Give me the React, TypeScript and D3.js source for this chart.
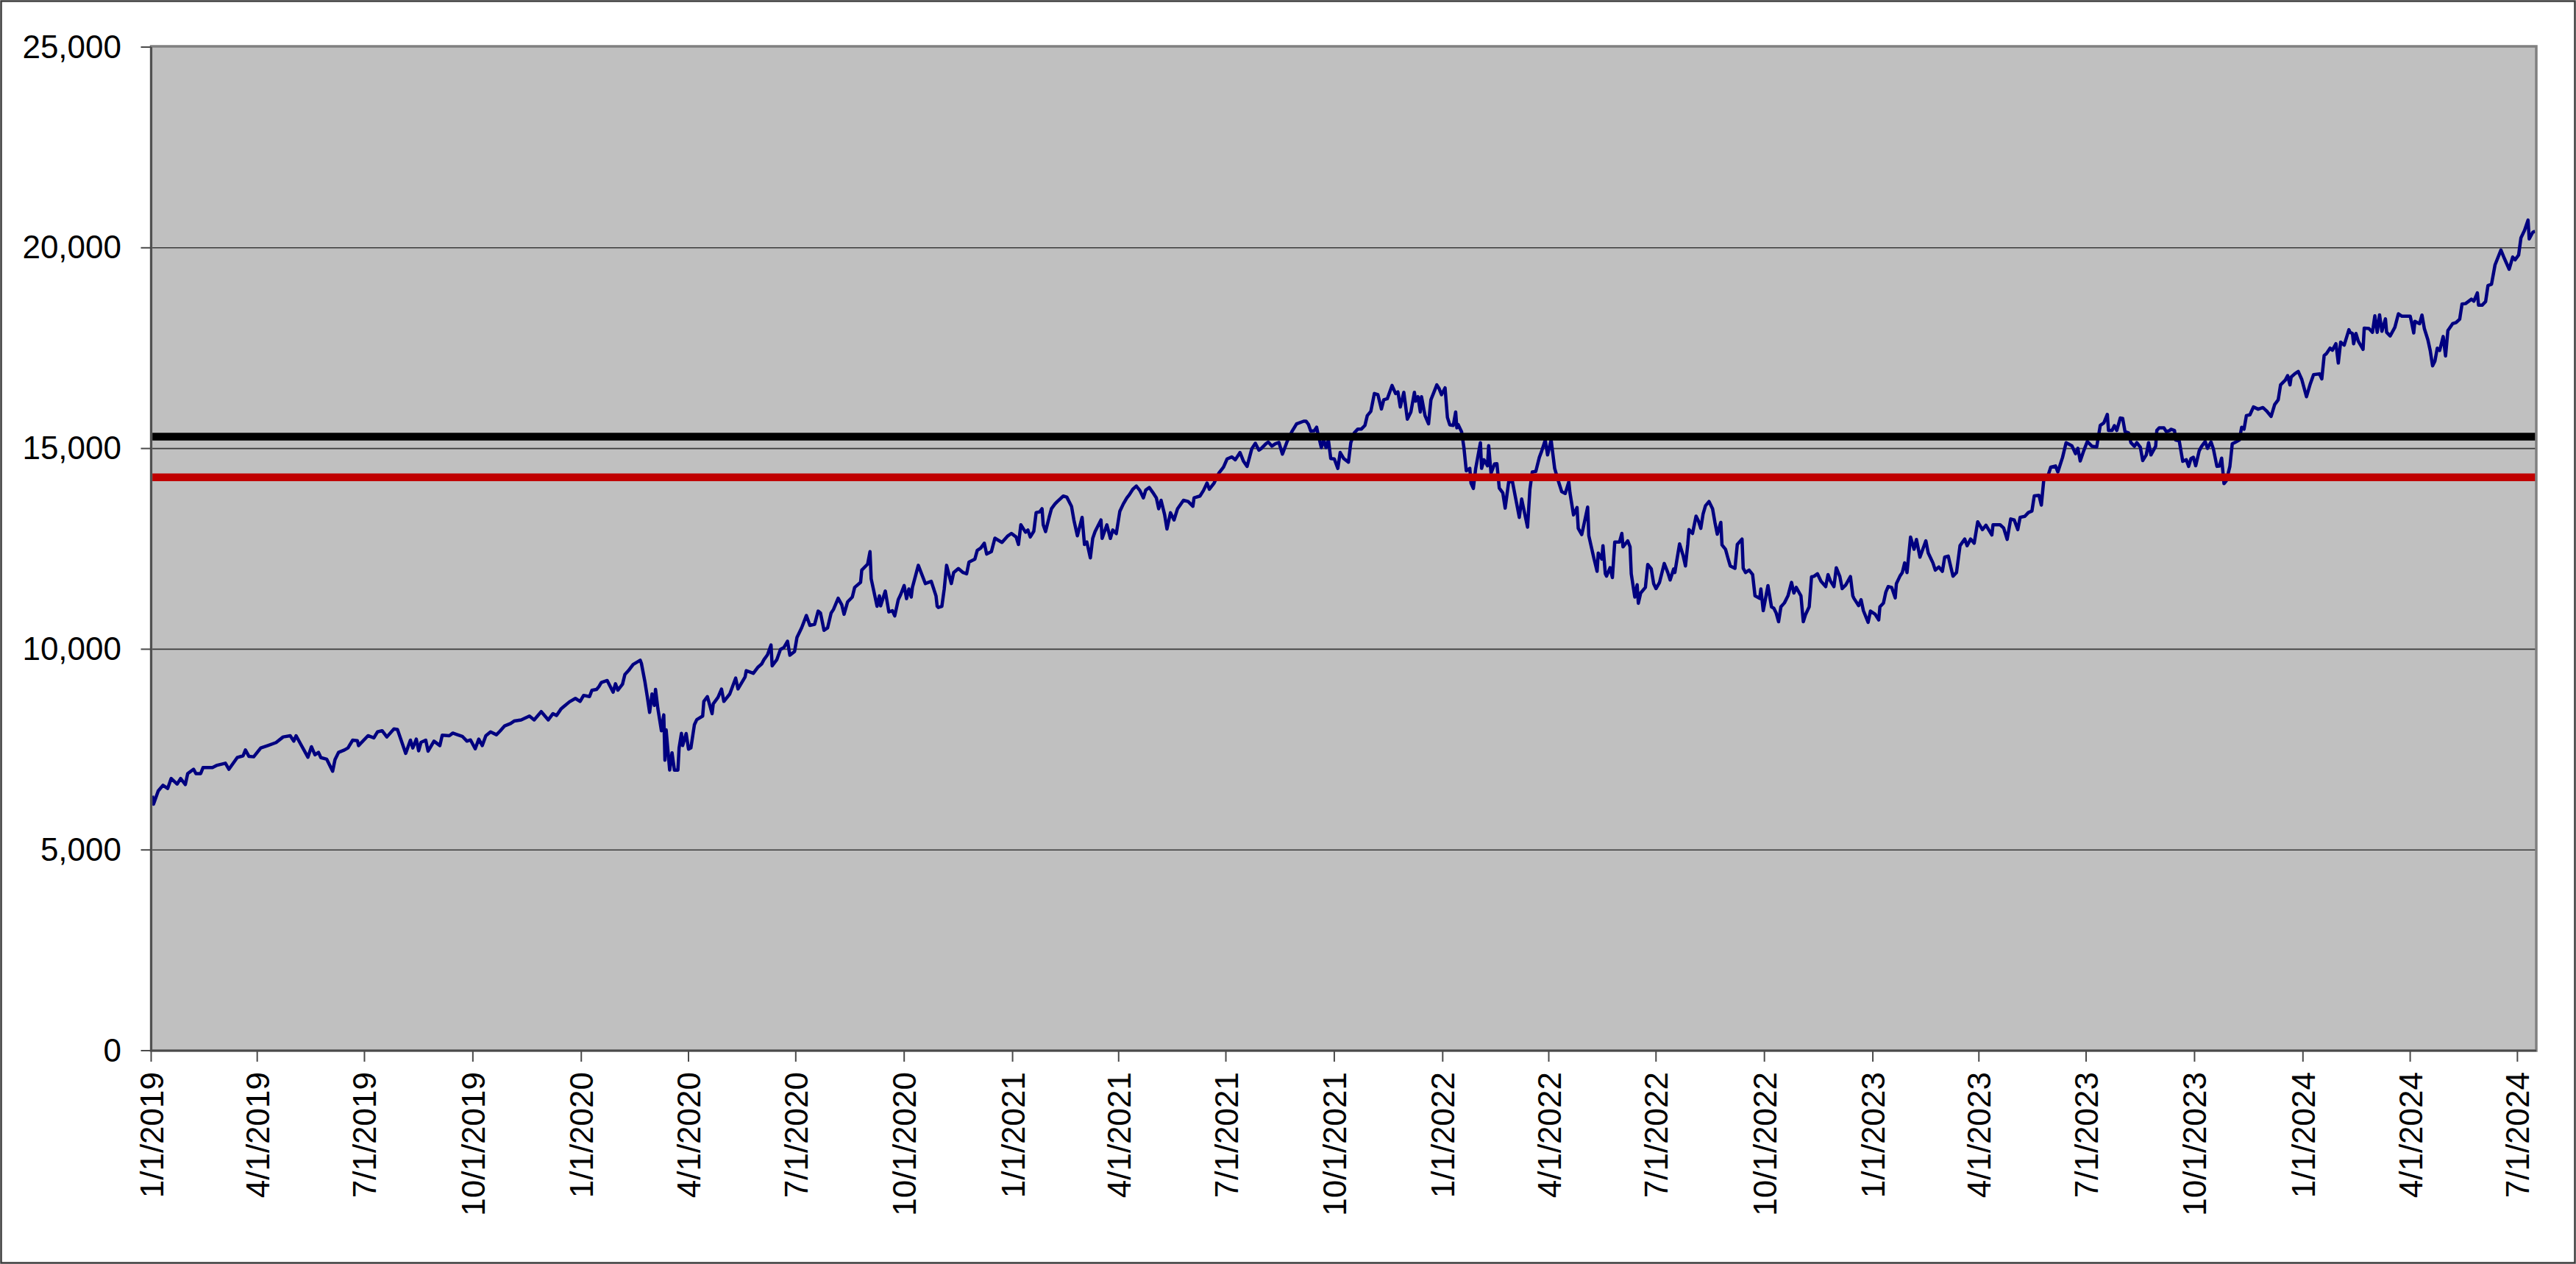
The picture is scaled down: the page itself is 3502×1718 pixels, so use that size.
import { useEffect, useRef } from "react";
import * as d3 from "d3";

type Point = [string, number];

// daily close (approx.)
const series2019: Point[] = [
  ["2019-01-02", 6350], ["2019-01-03", 6140], ["2019-01-07", 6470], ["2019-01-11", 6610], ["2019-01-15", 6530],
  ["2019-01-18", 6780], ["2019-01-23", 6640], ["2019-01-26", 6780], ["2019-01-30", 6630], ["2019-02-01", 6900],
  ["2019-02-06", 7010], ["2019-02-08", 6900], ["2019-02-12", 6900], ["2019-02-14", 7050], ["2019-02-22", 7050],
  ["2019-02-26", 7110], ["2019-03-05", 7160], ["2019-03-08", 7010], ["2019-03-15", 7300], ["2019-03-20", 7345],
  ["2019-03-22", 7490], ["2019-03-25", 7330], ["2019-03-29", 7320], ["2019-04-04", 7540], ["2019-04-10", 7600],
  ["2019-04-17", 7675], ["2019-04-23", 7815], ["2019-04-29", 7845], ["2019-05-02", 7710], ["2019-05-04", 7845],
  ["2019-05-08", 7630], ["2019-05-14", 7310], ["2019-05-17", 7570], ["2019-05-20", 7370], ["2019-05-23", 7430],
  ["2019-05-25", 7300], ["2019-05-30", 7260], ["2019-06-04", 6960], ["2019-06-06", 7250], ["2019-06-09", 7430],
  ["2019-06-14", 7490], ["2019-06-17", 7540], ["2019-06-21", 7735], ["2019-06-25", 7720], ["2019-06-26", 7600],
  ["2019-07-04", 7845], ["2019-07-09", 7790], ["2019-07-12", 7940], ["2019-07-16", 7970], ["2019-07-20", 7815],
  ["2019-07-26", 8015], ["2019-07-29", 8000], ["2019-08-05", 7405], ["2019-08-09", 7735], ["2019-08-11", 7540],
  ["2019-08-14", 7760], ["2019-08-16", 7470], ["2019-08-18", 7680], ["2019-08-22", 7735], ["2019-08-24", 7460],
  ["2019-08-29", 7710], ["2019-09-03", 7600], ["2019-09-05", 7860], ["2019-09-11", 7845], ["2019-09-14", 7910],
  ["2019-09-17", 7880], ["2019-09-22", 7830], ["2019-09-26", 7710], ["2019-09-29", 7740], ["2019-10-03", 7520],
  ["2019-10-06", 7760], ["2019-10-09", 7600], ["2019-10-12", 7845], ["2019-10-16", 7940], ["2019-10-21", 7870],
  ["2019-10-24", 7960], ["2019-10-28", 8090], ["2019-11-02", 8150], ["2019-11-05", 8210], ["2019-11-11", 8240],
  ["2019-11-18", 8335], ["2019-11-22", 8240], ["2019-11-28", 8445], ["2019-12-04", 8240], ["2019-12-08", 8395],
  ["2019-12-11", 8350], ["2019-12-15", 8520], ["2019-12-22", 8690], ["2019-12-27", 8775], ["2019-12-31", 8700],
];

const series2020: Point[] = [
  ["2020-01-03", 8850], ["2020-01-08", 8820], ["2020-01-10", 8975], ["2020-01-14", 9000], ["2020-01-16", 9070],
  ["2020-01-18", 9170], ["2020-01-23", 9220], ["2020-01-28", 8930], ["2020-01-30", 9140], ["2020-02-01", 8980],
  ["2020-02-05", 9130], ["2020-02-07", 9370], ["2020-02-10", 9465], ["2020-02-14", 9620], ["2020-02-20", 9725],
  ["2020-02-21", 9650], ["2020-02-24", 9190], ["2020-02-26", 8820], ["2020-02-28", 8425], ["2020-03-01", 8885],
  ["2020-03-03", 8600], ["2020-03-04", 9000], ["2020-03-06", 8520], ["2020-03-09", 7970], ["2020-03-11", 8365],
  ["2020-03-12", 7235], ["2020-03-13", 7990], ["2020-03-16", 6990], ["2020-03-18", 7420], ["2020-03-20", 6990],
  ["2020-03-23", 6990], ["2020-03-24", 7540], ["2020-03-26", 7905], ["2020-03-27", 7600], ["2020-03-30", 7900],
  ["2020-04-01", 7510], ["2020-04-03", 7540], ["2020-04-06", 8120], ["2020-04-08", 8245], ["2020-04-13", 8335],
  ["2020-04-14", 8700], ["2020-04-17", 8820], ["2020-04-21", 8395], ["2020-04-22", 8640], ["2020-04-26", 8800],
  ["2020-04-29", 9005], ["2020-05-01", 8700], ["2020-05-06", 8885], ["2020-05-11", 9280], ["2020-05-13", 9010],
  ["2020-05-19", 9310], ["2020-05-20", 9465], ["2020-05-26", 9400], ["2020-05-30", 9555], ["2020-06-02", 9630],
  ["2020-06-04", 9740], ["2020-06-07", 9860], ["2020-06-10", 10105], ["2020-06-11", 9585], ["2020-06-15", 9745],
  ["2020-06-18", 9995], ["2020-06-21", 10045], ["2020-06-24", 10200], ["2020-06-26", 9850], ["2020-06-30", 9945],
  ["2020-07-02", 10290], ["2020-07-06", 10535], ["2020-07-10", 10840], ["2020-07-13", 10595], ["2020-07-17", 10620],
  ["2020-07-20", 10950], ["2020-07-22", 10900], ["2020-07-25", 10470], ["2020-07-28", 10530], ["2020-07-31", 10900],
  ["2020-08-02", 10990], ["2020-08-06", 11270], ["2020-08-09", 11110], ["2020-08-11", 10870], ["2020-08-14", 11180],
  ["2020-08-18", 11300], ["2020-08-20", 11540], ["2020-08-25", 11665], ["2020-08-26", 11970], ["2020-08-31", 12120],
  ["2020-09-02", 12430], ["2020-09-03", 11755], ["2020-09-08", 11070], ["2020-09-10", 11330], ["2020-09-11", 11080],
  ["2020-09-15", 11450], ["2020-09-18", 10930], ["2020-09-21", 10960], ["2020-09-23", 10830], ["2020-09-26", 11235],
  ["2020-09-28", 11360], ["2020-10-01", 11585], ["2020-10-03", 11260], ["2020-10-05", 11500], ["2020-10-07", 11300],
  ["2020-10-08", 11540], ["2020-10-13", 12090], ["2020-10-19", 11635], ["2020-10-24", 11690], ["2020-10-28", 11330],
  ["2020-10-29", 11070], ["2020-10-30", 11040], ["2020-11-02", 11070], ["2020-11-04", 11500], ["2020-11-06", 12090],
  ["2020-11-10", 11635], ["2020-11-12", 11910], ["2020-11-16", 12010], ["2020-11-20", 11910], ["2020-11-23", 11880],
  ["2020-11-25", 12170], ["2020-11-30", 12245], ["2020-12-02", 12460], ["2020-12-05", 12520], ["2020-12-08", 12640],
  ["2020-12-10", 12370], ["2020-12-14", 12430], ["2020-12-17", 12765], ["2020-12-23", 12660], ["2020-12-28", 12825],
  ["2020-12-31", 12885],
];

const series2021: Point[] = [
  ["2021-01-04", 12795], ["2021-01-06", 12610], ["2021-01-08", 13100], ["2021-01-12", 12915], ["2021-01-14", 12970],
  ["2021-01-16", 12795], ["2021-01-19", 12940], ["2021-01-21", 13405], ["2021-01-24", 13420], ["2021-01-26", 13500],
  ["2021-01-27", 13100], ["2021-01-29", 12930], ["2021-02-01", 13285], ["2021-02-03", 13500], ["2021-02-06", 13620],
  ["2021-02-08", 13680], ["2021-02-13", 13815], ["2021-02-16", 13790], ["2021-02-20", 13560], ["2021-02-22", 13220],
  ["2021-02-25", 12825], ["2021-03-01", 13285], ["2021-03-03", 12610], ["2021-03-05", 12670], ["2021-03-08", 12275],
  ["2021-03-10", 12760], ["2021-03-12", 12930], ["2021-03-17", 13220], ["2021-03-18", 12760], ["2021-03-22", 13100],
  ["2021-03-25", 12760], ["2021-03-27", 12970], ["2021-03-30", 12880], ["2021-04-02", 13435], ["2021-04-05", 13620],
  ["2021-04-08", 13770], ["2021-04-10", 13845], ["2021-04-13", 13985], ["2021-04-16", 14065], ["2021-04-19", 13955],
  ["2021-04-22", 13770], ["2021-04-24", 13965], ["2021-04-27", 14030], ["2021-04-30", 13905], ["2021-05-03", 13770],
  ["2021-05-05", 13500], ["2021-05-07", 13710], ["2021-05-10", 13355], ["2021-05-12", 12995], ["2021-05-15", 13400],
  ["2021-05-18", 13220], ["2021-05-21", 13500], ["2021-05-26", 13710], ["2021-05-30", 13680], ["2021-06-03", 13560],
  ["2021-06-04", 13770], ["2021-06-09", 13815], ["2021-06-12", 13955], ["2021-06-15", 14140], ["2021-06-17", 13985],
  ["2021-06-21", 14140], ["2021-06-25", 14385], ["2021-06-29", 14535], ["2021-07-02", 14740], ["2021-07-06", 14790],
  ["2021-07-09", 14720], ["2021-07-13", 14900], ["2021-07-16", 14680], ["2021-07-19", 14555], ["2021-07-23", 14995],
  ["2021-07-26", 15130], ["2021-07-29", 14960], ["2021-07-31", 15000], ["2021-08-04", 15120], ["2021-08-06", 15160],
  ["2021-08-09", 15060], ["2021-08-12", 15120], ["2021-08-15", 15150], ["2021-08-18", 14860], ["2021-08-22", 15175],
  ["2021-08-26", 15420], ["2021-08-30", 15615], ["2021-09-05", 15680], ["2021-09-07", 15680], ["2021-09-09", 15605],
  ["2021-09-11", 15435], ["2021-09-14", 15440], ["2021-09-16", 15530], ["2021-09-17", 15390], ["2021-09-20", 15025],
  ["2021-09-22", 15210], ["2021-09-24", 15025], ["2021-09-26", 15210], ["2021-09-28", 14750], ["2021-10-01", 14740],
  ["2021-10-04", 14505], ["2021-10-06", 14900], ["2021-10-09", 14750], ["2021-10-13", 14660], ["2021-10-15", 15145],
  ["2021-10-18", 15390], ["2021-10-21", 15485], ["2021-10-24", 15485], ["2021-10-27", 15575], ["2021-10-29", 15820],
  ["2021-11-01", 15925], ["2021-11-04", 16370], ["2021-11-07", 16340], ["2021-11-10", 15985], ["2021-11-12", 16215],
  ["2021-11-15", 16240], ["2021-11-19", 16570], ["2021-11-22", 16370], ["2021-11-24", 16410], ["2021-11-26", 16035],
  ["2021-11-29", 16400], ["2021-12-02", 15730], ["2021-12-05", 15910], ["2021-12-08", 16400], ["2021-12-09", 16180],
  ["2021-12-11", 16290], ["2021-12-13", 15910], ["2021-12-14", 16290], ["2021-12-17", 15820], ["2021-12-20", 15615],
  ["2021-12-22", 16215], ["2021-12-27", 16585], ["2021-12-29", 16490], ["2021-12-31", 16340],
];

const series2022: Point[] = [
  ["2022-01-03", 16510], ["2022-01-05", 15775], ["2022-01-07", 15590], ["2022-01-10", 15575], ["2022-01-12", 15910],
  ["2022-01-13", 15515], ["2022-01-14", 15600], ["2022-01-17", 15420], ["2022-01-19", 15025], ["2022-01-21", 14445],
  ["2022-01-24", 14505], ["2022-01-25", 14140], ["2022-01-27", 14005], ["2022-01-29", 14505], ["2022-02-02", 15145],
  ["2022-02-03", 14505], ["2022-02-05", 14720], ["2022-02-08", 14570], ["2022-02-09", 15070], ["2022-02-11", 14385],
  ["2022-02-14", 14615], ["2022-02-16", 14620], ["2022-02-18", 14015], ["2022-02-21", 13895], ["2022-02-23", 13515],
  ["2022-02-26", 14170], ["2022-03-01", 14200], ["2022-03-03", 13895], ["2022-03-07", 13285], ["2022-03-09", 13740],
  ["2022-03-14", 13040], ["2022-03-16", 13985], ["2022-03-18", 14415], ["2022-03-21", 14430], ["2022-03-24", 14780],
  ["2022-03-26", 14935], ["2022-03-29", 15210], ["2022-03-31", 14840], ["2022-04-03", 15210], ["2022-04-06", 14505],
  ["2022-04-09", 14200], ["2022-04-12", 13925], ["2022-04-15", 13880], ["2022-04-18", 14170], ["2022-04-19", 13895],
  ["2022-04-22", 13345], ["2022-04-25", 13530], ["2022-04-26", 13010], ["2022-04-29", 12855], ["2022-05-04", 13540],
  ["2022-05-05", 12825], ["2022-05-09", 12305], ["2022-05-12", 11940], ["2022-05-13", 12395], ["2022-05-16", 12245],
  ["2022-05-17", 12580], ["2022-05-19", 11880], ["2022-05-20", 11820], ["2022-05-23", 12030], ["2022-05-25", 11785],
  ["2022-05-27", 12670], ["2022-05-31", 12670], ["2022-06-02", 12885], ["2022-06-03", 12550], ["2022-06-07", 12700],
  ["2022-06-09", 12550], ["2022-06-10", 11880], ["2022-06-13", 11300], ["2022-06-15", 11605], ["2022-06-16", 11145],
  ["2022-06-18", 11400], ["2022-06-22", 11540], ["2022-06-24", 12110], ["2022-06-27", 12000], ["2022-06-29", 11635],
  ["2022-07-01", 11510], ["2022-07-04", 11665], ["2022-07-08", 12135], ["2022-07-11", 11910], ["2022-07-13", 11725],
  ["2022-07-16", 12000], ["2022-07-17", 11910], ["2022-07-19", 12275], ["2022-07-21", 12625], ["2022-07-24", 12335],
  ["2022-07-26", 12075], ["2022-07-28", 12625], ["2022-07-29", 12980], ["2022-08-01", 12885], ["2022-08-04", 13315],
  ["2022-08-06", 13195], ["2022-08-08", 13010], ["2022-08-10", 13375], ["2022-08-12", 13575], ["2022-08-15", 13680],
  ["2022-08-18", 13500], ["2022-08-20", 13160], ["2022-08-22", 12865], ["2022-08-25", 13160], ["2022-08-26", 12600],
  ["2022-08-29", 12490], ["2022-08-31", 12275], ["2022-09-02", 12075], ["2022-09-06", 12015], ["2022-09-08", 12610],
  ["2022-09-12", 12745], ["2022-09-13", 12015], ["2022-09-15", 11910], ["2022-09-18", 11970], ["2022-09-21", 11860],
  ["2022-09-23", 11330], ["2022-09-27", 11265], ["2022-09-28", 11500], ["2022-09-30", 10960], ["2022-10-04", 11585],
  ["2022-10-07", 11055], ["2022-10-09", 11020], ["2022-10-11", 10900], ["2022-10-13", 10685], ["2022-10-15", 11055],
  ["2022-10-18", 11155], ["2022-10-21", 11330], ["2022-10-24", 11665], ["2022-10-26", 11400], ["2022-10-28", 11540],
  ["2022-11-01", 11330], ["2022-11-03", 10685], ["2022-11-05", 10870], ["2022-11-08", 11055], ["2022-11-10", 11805],
  ["2022-11-12", 11815], ["2022-11-15", 11880], ["2022-11-18", 11695], ["2022-11-22", 11560], ["2022-11-24", 11860],
  ["2022-11-26", 11700], ["2022-11-29", 11560], ["2022-12-01", 12030], ["2022-12-04", 11810], ["2022-12-06", 11510],
  ["2022-12-09", 11600], ["2022-12-13", 11810], ["2022-12-15", 11330], ["2022-12-16", 11265], ["2022-12-20", 11085],
  ["2022-12-22", 11235], ["2022-12-24", 10960], ["2022-12-28", 10670], ["2022-12-30", 10950],
];

const series2023: Point[] = [
  ["2023-01-03", 10870], ["2023-01-06", 10730], ["2023-01-07", 11055], ["2023-01-10", 11150], ["2023-01-12", 11420],
  ["2023-01-14", 11560], ["2023-01-17", 11540], ["2023-01-20", 11280], ["2023-01-21", 11635], ["2023-01-24", 11820],
  ["2023-01-26", 11910], ["2023-01-28", 12150], ["2023-01-30", 11910], ["2023-02-02", 12795], ["2023-02-05", 12490],
  ["2023-02-07", 12735], ["2023-02-10", 12295], ["2023-02-15", 12700], ["2023-02-17", 12400], ["2023-02-21", 12150],
  ["2023-02-23", 11970], ["2023-02-26", 12050], ["2023-03-01", 11940], ["2023-03-03", 12295], ["2023-03-06", 12320],
  ["2023-03-10", 11820], ["2023-03-13", 11910], ["2023-03-16", 12580], ["2023-03-20", 12745], ["2023-03-22", 12580],
  ["2023-03-25", 12745], ["2023-03-28", 12640], ["2023-03-31", 13175], ["2023-04-04", 12980], ["2023-04-07", 13090],
  ["2023-04-12", 12845], ["2023-04-13", 13100], ["2023-04-19", 13100], ["2023-04-22", 13020], ["2023-04-25", 12735],
  ["2023-04-28", 13245], ["2023-05-01", 13220], ["2023-05-04", 12980], ["2023-05-06", 13285], ["2023-05-10", 13310],
  ["2023-05-13", 13405], ["2023-05-16", 13440], ["2023-05-18", 13820], ["2023-05-22", 13835], ["2023-05-24", 13590],
  ["2023-05-26", 14200], ["2023-05-30", 14355], ["2023-06-01", 14535], ["2023-06-05", 14565], ["2023-06-07", 14415],
  ["2023-06-11", 14780], ["2023-06-14", 15145], ["2023-06-19", 15065], ["2023-06-22", 14870], ["2023-06-24", 15005],
  ["2023-06-26", 14690], ["2023-06-29", 14945], ["2023-07-02", 15175], ["2023-07-06", 15055], ["2023-07-10", 15040],
  ["2023-07-13", 15575], ["2023-07-16", 15635], ["2023-07-19", 15850], ["2023-07-20", 15450], ["2023-07-23", 15450],
  ["2023-07-25", 15570], ["2023-07-27", 15450], ["2023-07-30", 15760], ["2023-08-01", 15750], ["2023-08-03", 15420],
  ["2023-08-06", 15390], ["2023-08-08", 15145], ["2023-08-11", 15055], ["2023-08-13", 15145], ["2023-08-16", 15030],
  ["2023-08-18", 14700], ["2023-08-21", 14840], ["2023-08-23", 15145], ["2023-08-25", 14840], ["2023-08-29", 15055],
  ["2023-08-30", 15450], ["2023-09-01", 15515], ["2023-09-05", 15515], ["2023-09-07", 15420], ["2023-09-10", 15450],
  ["2023-09-11", 15480], ["2023-09-14", 15450], ["2023-09-15", 15210], ["2023-09-18", 15190], ["2023-09-21", 14680],
  ["2023-09-24", 14720], ["2023-09-26", 14555], ["2023-09-28", 14750], ["2023-09-30", 14780], ["2023-10-02", 14570],
  ["2023-10-05", 14945], ["2023-10-07", 15055], ["2023-10-10", 15175], ["2023-10-12", 15005], ["2023-10-15", 15165],
  ["2023-10-17", 14990], ["2023-10-20", 14555], ["2023-10-22", 14560], ["2023-10-24", 14760], ["2023-10-26", 14125],
  ["2023-10-28", 14200], ["2023-10-31", 14555], ["2023-11-02", 15115], ["2023-11-05", 15160], ["2023-11-08", 15210],
  ["2023-11-10", 15530], ["2023-11-12", 15480], ["2023-11-14", 15820], ["2023-11-17", 15840], ["2023-11-20", 16035],
  ["2023-11-24", 15980], ["2023-11-28", 16020], ["2023-12-01", 15940], ["2023-12-05", 15800], ["2023-12-08", 16095],
  ["2023-12-11", 16215], ["2023-12-13", 16585], ["2023-12-17", 16705], ["2023-12-19", 16815], ["2023-12-21", 16585],
  ["2023-12-22", 16780], ["2023-12-25", 16860], ["2023-12-28", 16920], ["2023-12-31", 16720],
];

const series2024: Point[] = [
  ["2024-01-04", 16290], ["2024-01-07", 16590], ["2024-01-10", 16840], ["2024-01-15", 16860], ["2024-01-17", 16735],
  ["2024-01-19", 17315], ["2024-01-21", 17365], ["2024-01-24", 17500], ["2024-01-26", 17450], ["2024-01-29", 17610],
  ["2024-01-31", 17130], ["2024-02-02", 17650], ["2024-02-05", 17575], ["2024-02-09", 17960], ["2024-02-10", 17895],
  ["2024-02-12", 17865], ["2024-02-13", 17610], ["2024-02-15", 17865], ["2024-02-17", 17670], ["2024-02-21", 17470],
  ["2024-02-22", 18000], ["2024-02-26", 17990], ["2024-02-29", 17895], ["2024-03-02", 18305], ["2024-03-04", 17895],
  ["2024-03-06", 18330], ["2024-03-08", 17920], ["2024-03-11", 18230], ["2024-03-12", 17895], ["2024-03-15", 17805],
  ["2024-03-19", 18020], ["2024-03-22", 18355], ["2024-03-25", 18295], ["2024-03-28", 18295], ["2024-04-01", 18295],
  ["2024-04-02", 18170], ["2024-04-04", 17880], ["2024-04-05", 18170], ["2024-04-09", 18110], ["2024-04-11", 18325],
  ["2024-04-13", 17990], ["2024-04-16", 17710], ["2024-04-18", 17440], ["2024-04-20", 17060], ["2024-04-22", 17180],
  ["2024-04-24", 17500], ["2024-04-26", 17440], ["2024-04-29", 17790], ["2024-05-01", 17305], ["2024-05-03", 17940],
  ["2024-05-07", 18110], ["2024-05-10", 18140], ["2024-05-13", 18220], ["2024-05-15", 18600], ["2024-05-18", 18610],
  ["2024-05-23", 18720], ["2024-05-25", 18670], ["2024-05-28", 18875], ["2024-05-29", 18570], ["2024-06-01", 18570],
  ["2024-06-04", 18660], ["2024-06-06", 19060], ["2024-06-09", 19090], ["2024-06-12", 19575], ["2024-06-17", 19945],
  ["2024-06-20", 19730], ["2024-06-24", 19465], ["2024-06-27", 19770], ["2024-06-29", 19700], ["2024-07-02", 19820],
  ["2024-07-04", 20250], ["2024-07-07", 20430], ["2024-07-10", 20690], ["2024-07-11", 20220], ["2024-07-14", 20385],
  ["2024-07-16", 20415],
];

const yTicks = [0, 5000, 10000, 15000, 20000, 25000];
const blackLevel = 15293;
const redLevel = 14283;
const axisStart = "2019-01-01";
const axisEnd = "2024-07-17";

const W = 3502;
const H = 1718;
const plot = { left: 205.5, right: 3448, top: 64, bottom: 1428 };
const FONT = "'Liberation Sans', Arial, sans-serif";

export default function App() {
  const ref = useRef<SVGSVGElement | null>(null);

  useEffect(() => {
    if (!ref.current) return;
    const svg = d3.select(ref.current);
    svg.selectAll("*").remove();

    const parse = d3.timeParse("%Y-%m-%d");
    const data = [...series2019, ...series2020, ...series2021, ...series2022, ...series2023, ...series2024].map(
      ([d, v]) => ({ date: parse(d)!, value: v })
    );

    const x = d3
      .scaleTime()
      .domain([parse(axisStart)!, parse(axisEnd)!])
      .range([plot.left, plot.right]);
    const y = d3.scaleLinear().domain([0, 25000]).range([plot.bottom, plot.top]);

    // outer chart border
    svg
      .append("rect")
      .attr("x", 1.5)
      .attr("y", 1.5)
      .attr("width", W - 3)
      .attr("height", H - 3)
      .attr("fill", "#fff")
      .attr("stroke", "#3c3c3c")
      .attr("stroke-width", 2.5);

    // plot area
    svg
      .append("rect")
      .attr("x", plot.left)
      .attr("y", plot.top)
      .attr("width", plot.right - plot.left)
      .attr("height", plot.bottom - plot.top)
      .attr("fill", "#c0c0c0");

    // gridlines
    svg
      .append("g")
      .selectAll("line")
      .data(yTicks.filter(t => t > 0 && t < 25000))
      .enter()
      .append("line")
      .attr("x1", plot.left)
      .attr("x2", plot.right)
      .attr("y1", d => y(d))
      .attr("y2", d => y(d))
      .attr("stroke", "#3a3a3a")
      .attr("stroke-width", 1.6);

    // series
    const line = d3
      .line<{ date: Date; value: number }>()
      .x(d => x(d.date))
      .y(d => y(d.value));
    svg
      .append("path")
      .datum(data)
      .attr("d", line)
      .attr("fill", "none")
      .attr("stroke", "#000080")
      .attr("stroke-width", 4.5)
      .attr("stroke-linejoin", "round");

    // level lines
    [
      { value: redLevel, color: "#c00000" },
      { value: blackLevel, color: "#000000" },
    ].forEach(l => {
      svg
        .append("line")
        .attr("x1", plot.left)
        .attr("x2", plot.right)
        .attr("y1", y(l.value))
        .attr("y2", y(l.value))
        .attr("stroke", l.color)
        .attr("stroke-width", 10.5);
    });

    // plot frame
    svg
      .append("rect")
      .attr("x", plot.left)
      .attr("y", plot.top - 1)
      .attr("width", plot.right - plot.left)
      .attr("height", plot.bottom - plot.top + 1)
      .attr("fill", "none")
      .attr("stroke", "#808080")
      .attr("stroke-width", 3.5);

    // axis lines
    svg
      .append("line")
      .attr("x1", plot.left)
      .attr("x2", plot.left)
      .attr("y1", plot.top)
      .attr("y2", plot.bottom)
      .attr("stroke", "#4a4a4a")
      .attr("stroke-width", 2.5);
    svg
      .append("line")
      .attr("x1", plot.left)
      .attr("x2", plot.right)
      .attr("y1", plot.bottom)
      .attr("y2", plot.bottom)
      .attr("stroke", "#4a4a4a")
      .attr("stroke-width", 2.5);

    // y axis ticks + labels
    const fmt = d3.format(",");
    const yAxis = svg.append("g");
    yAxis
      .selectAll("line")
      .data(yTicks)
      .enter()
      .append("line")
      .attr("x1", plot.left - 14)
      .attr("x2", plot.left)
      .attr("y1", d => y(d))
      .attr("y2", d => y(d))
      .attr("stroke", "#4a4a4a")
      .attr("stroke-width", 2);
    yAxis
      .selectAll("text")
      .data(yTicks)
      .enter()
      .append("text")
      .attr("x", 165)
      .attr("y", d => y(d) + 14.5)
      .attr("text-anchor", "end")
      .attr("font-family", FONT)
      .attr("font-size", 44)
      .attr("fill", "#000")
      .text(d => fmt(d));

    // x axis ticks + labels (quarterly)
    const xTicks = x.ticks(d3.timeMonth.every(3)!);
    const dateFmt = d3.timeFormat("%-m/%-d/%Y");
    const xAxis = svg.append("g");
    xAxis
      .selectAll("line")
      .data(xTicks)
      .enter()
      .append("line")
      .attr("x1", d => x(d))
      .attr("x2", d => x(d))
      .attr("y1", plot.bottom)
      .attr("y2", plot.bottom + 15)
      .attr("stroke", "#4a4a4a")
      .attr("stroke-width", 2);
    xAxis
      .selectAll("text")
      .data(xTicks)
      .enter()
      .append("text")
      .attr("transform", d => `translate(${x(d)}, 1457) rotate(-90)`)
      .attr("dy", 16)
      .attr("text-anchor", "end")
      .attr("font-family", FONT)
      .attr("font-size", 44)
      .attr("fill", "#000")
      .text(d => dateFmt(d));
  }, []);

  return (
    <svg
      ref={ref}
      width={W}
      height={H}
      viewBox={`0 0 ${W} ${H}`}
      style={{ position: "absolute", left: 0, top: 0, display: "block" }}
    />
  );
}
